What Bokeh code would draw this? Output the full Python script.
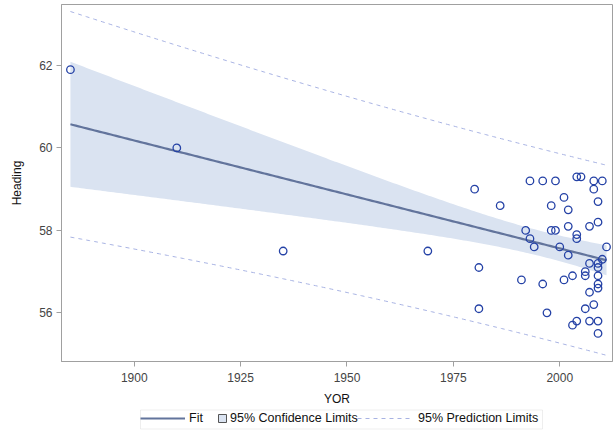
import numpy as np
from bokeh.plotting import figure
from bokeh.layouts import column
from bokeh.models import Legend, LegendItem, Range1d, FixedTicker, ColumnDataSource, BoxAnnotation
from bokeh.embed import file_html
from bokeh.resources import INLINE

# --- data ---
yor = [1885, 1910, 1935, 1969, 1980, 1981, 1981, 1986, 1991, 1992, 1993, 1993, 1994,
       1996, 1996, 1997, 1998, 1998, 1999, 1999, 2000, 2001, 2001, 2002, 2002, 2002,
       2003, 2003, 2004, 2005, 2004, 2004, 2004, 2006, 2006, 2006, 2007, 2007, 2007,
       2007, 2008, 2008, 2008, 2009, 2009, 2009, 2009, 2009, 2009, 2009, 2009, 2009,
       2010, 2010, 2011]
heading = [61.9, 60.0, 57.5, 57.5, 59.0, 57.1, 56.1, 58.6, 56.8, 58.0, 59.2, 57.8, 57.6,
           59.2, 56.7, 56.0, 58.6, 58.0, 58.0, 59.2, 57.6, 58.8, 56.8, 58.5, 58.1, 57.4,
           56.9, 55.7, 59.3, 59.3, 57.9, 57.8, 55.8, 57.0, 56.9, 56.1, 58.1, 57.2, 56.5,
           55.8, 59.2, 59.0, 56.2, 58.7, 58.2, 57.2, 57.1, 56.9, 56.7, 56.6, 55.8, 55.5,
           59.2, 57.3, 57.6]
x_ticks = [1900, 1925, 1950, 1975, 2000]
y_ticks = [56, 58, 60, 62]
legend_labels = ["Fit", "95% Confidence Limits", "95% Prediction Limits"]
t_crit = 2.006  # t(0.975, df=53)

# --- linear regression with 95% confidence / prediction limits ---
x = np.array(yor, dtype=float)
y = np.array(heading, dtype=float)
n = len(x)
b1, b0 = np.polyfit(x, y, 1)
resid = y - (b0 + b1 * x)
s = np.sqrt(np.sum(resid ** 2) / (n - 2))
sxx = np.sum((x - x.mean()) ** 2)
xg = np.linspace(x.min(), x.max(), 200)
fit = b0 + b1 * xg
se_m = s * np.sqrt(1.0 / n + (xg - x.mean()) ** 2 / sxx)
se_p = s * np.sqrt(1.0 + 1.0 / n + (xg - x.mean()) ** 2 / sxx)
band = ColumnDataSource(dict(x=xg, fit=fit, lcl=fit - t_crit * se_m, ucl=fit + t_crit * se_m,
                             lpl=fit - t_crit * se_p, upl=fit + t_crit * se_p))
pts = ColumnDataSource(dict(x=yor, y=heading))

FONT = "Liberation Sans"
TXT = "#444444"
FIT_C = "#62749C"
BAND_C = "#DAE3F1"
PRED_C = "#A8B3E3"

p = figure(width=613, height=408, output_backend="svg", toolbar_location=None,
           x_range=Range1d(1882.9, 2012.4), y_range=Range1d(54.82, 63.48),
           min_border_left=61, min_border_right=1, min_border_top=4, min_border_bottom=47)
p.grid.visible = False
p.outline_line_color = "#A0A0A0"
p.background_fill_color = "white"
p.border_fill_color = "white"

p.varea(x="x", y1="lcl", y2="ucl", source=band, fill_color=BAND_C, fill_alpha=1.0)
p.line(x="x", y="fit", source=band, line_color=FIT_C, line_width=2.2)
p.line(x="x", y="upl", source=band, line_color=PRED_C, line_width=1, line_dash="4 4")
p.line(x="x", y="lpl", source=band, line_color=PRED_C, line_width=1, line_dash="4 4")
p.scatter(x="x", y="y", source=pts, marker="circle", size=7.5, fill_color=None,
          line_color="#2542A6", line_width=1.3)

for ax in (p.xaxis[0], p.yaxis[0]):
    ax.axis_line_color = "#A0A0A0"
    ax.major_tick_line_color = "#A0A0A0"
    ax.major_tick_out = 5
    ax.major_tick_in = 0
    ax.minor_tick_line_color = None
    ax.major_label_text_font = FONT
    ax.major_label_text_font_size = "12px"
    ax.major_label_text_color = TXT
    ax.axis_label_text_font = FONT
    ax.axis_label_text_font_size = "12px"
    ax.axis_label_text_font_style = "normal"
    ax.axis_label_text_color = "#111111"

p.xaxis.ticker = FixedTicker(ticks=x_ticks)
p.yaxis.ticker = FixedTicker(ticks=y_ticks)
p.xaxis.axis_label = "YOR"
p.yaxis.axis_label = "Heading"
p.xaxis.major_label_standoff = 6
p.xaxis.axis_label_standoff = 7
p.yaxis.major_label_standoff = 4
p.yaxis.axis_label_standoff = 12

# --- legend strip below the plot (its frame is aligned with the plot frame) ---
lg = figure(width=613, height=29, output_backend="svg", toolbar_location=None,
            x_range=Range1d(61, 612), y_range=Range1d(0, 29),
            x_axis_location=None, y_axis_location=None,
            min_border_left=61, min_border_right=1, min_border_top=0, min_border_bottom=0)
lg.grid.visible = False
lg.outline_line_color = None
proxy = ColumnDataSource(dict(x=[float("nan")], y=[float("nan")]))
r_fit = lg.line(x="x", y="y", source=proxy, line_color=FIT_C, line_width=2.2)
r_cl = lg.quad(left="x", right="x", top="y", bottom="y", source=proxy,
               fill_color=BAND_C, line_color="#555555", line_width=1)
r_pl = lg.line(x="x", y="y", source=proxy, line_color=PRED_C, line_width=1, line_dash="4 4")

lg.add_layout(BoxAnnotation(left=140, right=542, bottom=8.5, top=27.5,
                            fill_color=None, fill_alpha=0, line_color="#C8C8C8",
                            line_width=1))


def make_legend(label, rend, x0, gw, gh, standoff):
    lgd = Legend(items=[LegendItem(label=label, renderers=[rend])],
                 orientation="horizontal", location=(x0, 12))
    lgd.label_text_font = FONT
    lgd.label_text_font_size = "12.5px"
    lgd.label_text_color = "#111111"
    lgd.border_line_color = None
    lgd.background_fill_alpha = 0
    lgd.glyph_width = gw
    lgd.glyph_height = gh
    lgd.label_standoff = standoff
    lgd.label_height = 12
    lgd.padding = 0
    lgd.margin = 0
    lgd.spacing = 0
    return lgd


lg.add_layout(make_legend(legend_labels[0], r_fit, 79, 45, 12, 4), "center")
lg.add_layout(make_legend(legend_labels[1], r_cl, 156, 10, 10, 3), "center")
lg.add_layout(make_legend(legend_labels[2], r_pl, 296, 56, 12, 5), "center")

layout = column(p, lg, spacing=0)
open("out.html", "w").write(file_html(layout, INLINE))
